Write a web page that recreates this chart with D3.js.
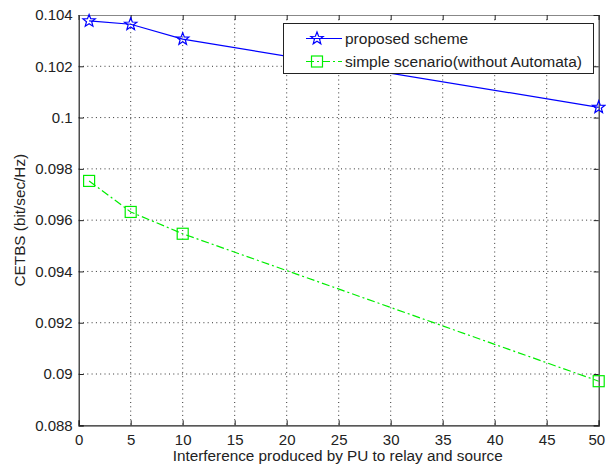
<!DOCTYPE html>
<html><head><meta charset="utf-8">
<script src="https://cdn.jsdelivr.net/npm/d3@7"></script>
<style>body{margin:0;background:#fff;} svg{display:block;font-family:"Liberation Sans",Arial,sans-serif;}</style>
</head><body>
<script>
const xValues = [1, 5, 10, 50];
const proposed = [0.10377, 0.10364, 0.10306, 0.10040];
const simple = [0.09753, 0.09632, 0.09547, 0.08972];
const xTicks = [0,5,10,15,20,25,30,35,40,45,50];
const yTicks = [0.088,0.09,0.092,0.094,0.096,0.098,0.1,0.102,0.104];
const seriesNames = ["proposed scheme", "simple scenario(without Automata)"];

const W = 606, H = 469;
const m = {l: 78.7, r: 598.7, t: 15, b: 425.3};
const svg = d3.select("body").append("svg").attr("width", W).attr("height", H);
const x = d3.scaleLinear().domain([0, 50]).range([m.l, m.r]);
const y = d3.scaleLinear().domain([0.088, 0.104]).range([m.b, m.t]);

// grid
const g = svg.append("g");
g.selectAll(".vg").data(xTicks.slice(1, -1)).join("line")
  .attr("x1", d => x(d)).attr("x2", d => x(d)).attr("y1", m.t).attr("y2", m.b)
  .attr("stroke", "#333").attr("stroke-width", 1).attr("stroke-dasharray", "1,3.3");
g.selectAll(".hg").data(yTicks.slice(1, -1)).join("line")
  .attr("y1", d => y(d)).attr("y2", d => y(d)).attr("x1", m.l).attr("x2", m.r)
  .attr("stroke", "#333").attr("stroke-width", 1).attr("stroke-dasharray", "1,3.3");

// axes
const xAxis = d3.axisBottom(x).tickValues(xTicks).tickSize(-5).tickPadding(9).tickFormat(d3.format("d"));
const yAxis = d3.axisLeft(y).tickValues(yTicks).tickSize(-5).tickPadding(6).tickFormat(d => String(+d.toFixed(3)));
const xa = svg.append("g").attr("transform", `translate(0,${m.b})`).call(xAxis);
const ya = svg.append("g").attr("transform", `translate(${m.l},0)`).call(yAxis);
const xTop = svg.append("g").attr("transform", `translate(0,${m.t})`).call(d3.axisTop(x).tickValues(xTicks).tickSize(-5).tickFormat(""));
const yRight = svg.append("g").attr("transform", `translate(${m.r},0)`).call(d3.axisRight(y).tickValues(yTicks).tickSize(-5).tickFormat(""));
[xa, ya, xTop, yRight].forEach(a => {
  a.select(".domain").attr("stroke", "#222").attr("stroke-width", 1.2);
  a.selectAll(".tick line").attr("stroke", "#222");
  a.selectAll("text").attr("font-size", 15).attr("fill", "#222").attr("font-family", "Liberation Sans, Arial, sans-serif");
});
// keep the last x tick label inside the window
xa.selectAll(".tick text").filter(d => d === 50).attr("text-anchor", "end").attr("x", 6);
xTop.select(".domain").attr("stroke", "#888");
yRight.select(".domain").attr("stroke", "#333");

// labels
svg.append("text").attr("x", x(25) - 1).attr("y", 461).attr("text-anchor", "middle")
  .attr("font-size", 15.3).attr("fill", "#222").text("Interference produced by PU to relay and source");
svg.append("text").attr("transform", `translate(25,${(m.t + m.b) / 2 }) rotate(-90)`).attr("text-anchor", "middle")
  .attr("font-size", 15.3).attr("fill", "#222").text("CETBS (bit/sec/Hz)");

// star path
function starPath(r) {
  const pts = [];
  for (let i = 0; i < 10; i++) {
    const rr = i % 2 === 0 ? r : r * 0.42;
    const a = -Math.PI / 2 + i * Math.PI / 5;
    pts.push([rr * Math.cos(a), rr * Math.sin(a)]);
  }
  return "M" + pts.map(p => p.join(",")).join("L") + "Z";
}

const line = d3.line().x((d, i) => x(xValues[i])).y(d => y(d));
// series 1
svg.append("path").datum(proposed).attr("d", line).attr("fill", "none").attr("stroke", "#0000ff").attr("stroke-width", 1.2);
svg.selectAll(".st").data(proposed).join("path")
  .attr("transform", (d, i) => `translate(${x(xValues[i])},${y(d)})`)
  .attr("d", starPath(6.5)).attr("fill", "none").attr("stroke", "#0000ff").attr("stroke-width", 1.2);
// series 2
svg.append("path").datum(simple).attr("d", line).attr("fill", "none").attr("stroke", "#00ee00").attr("stroke-width", 1.2)
  .attr("stroke-dasharray", "8,3,2,3");
svg.selectAll(".sq").data(simple).join("rect")
  .attr("x", (d, i) => x(xValues[i]) - 5.5).attr("y", d => y(d) - 5.5)
  .attr("width", 11).attr("height", 11).attr("fill", "none").attr("stroke", "#00ee00").attr("stroke-width", 1.2);

// legend
const lg = svg.append("g");
lg.append("rect").attr("x", 283.5).attr("y", 23.5).attr("width", 310).attr("height", 50)
  .attr("fill", "#fff").attr("stroke", "#222").attr("stroke-width", 1);
const rows = [38.5, 61.5];
lg.append("line").attr("x1", 306).attr("x2", 342).attr("y1", rows[0]).attr("y2", rows[0]).attr("stroke", "#0000ff").attr("stroke-width", 1.2);
lg.append("path").attr("transform", `translate(317,${rows[0]})`).attr("d", starPath(6.5)).attr("fill", "none").attr("stroke", "#0000ff").attr("stroke-width", 1.2);
lg.append("line").attr("x1", 306).attr("x2", 342).attr("y1", rows[1]).attr("y2", rows[1]).attr("stroke", "#00ee00").attr("stroke-width", 1.2).attr("stroke-dasharray", "8,3,2,3");
lg.append("rect").attr("x", 311.5).attr("y", rows[1] - 5.5).attr("width", 11).attr("height", 11).attr("fill", "none").attr("stroke", "#00ee00").attr("stroke-width", 1.2);
seriesNames.forEach((n, i) => {
  lg.append("text").attr("x", 345).attr("y", rows[i] + 5.5).attr("font-size", 15.5).attr("fill", "#222").text(n);
});
</script>
</body></html>
